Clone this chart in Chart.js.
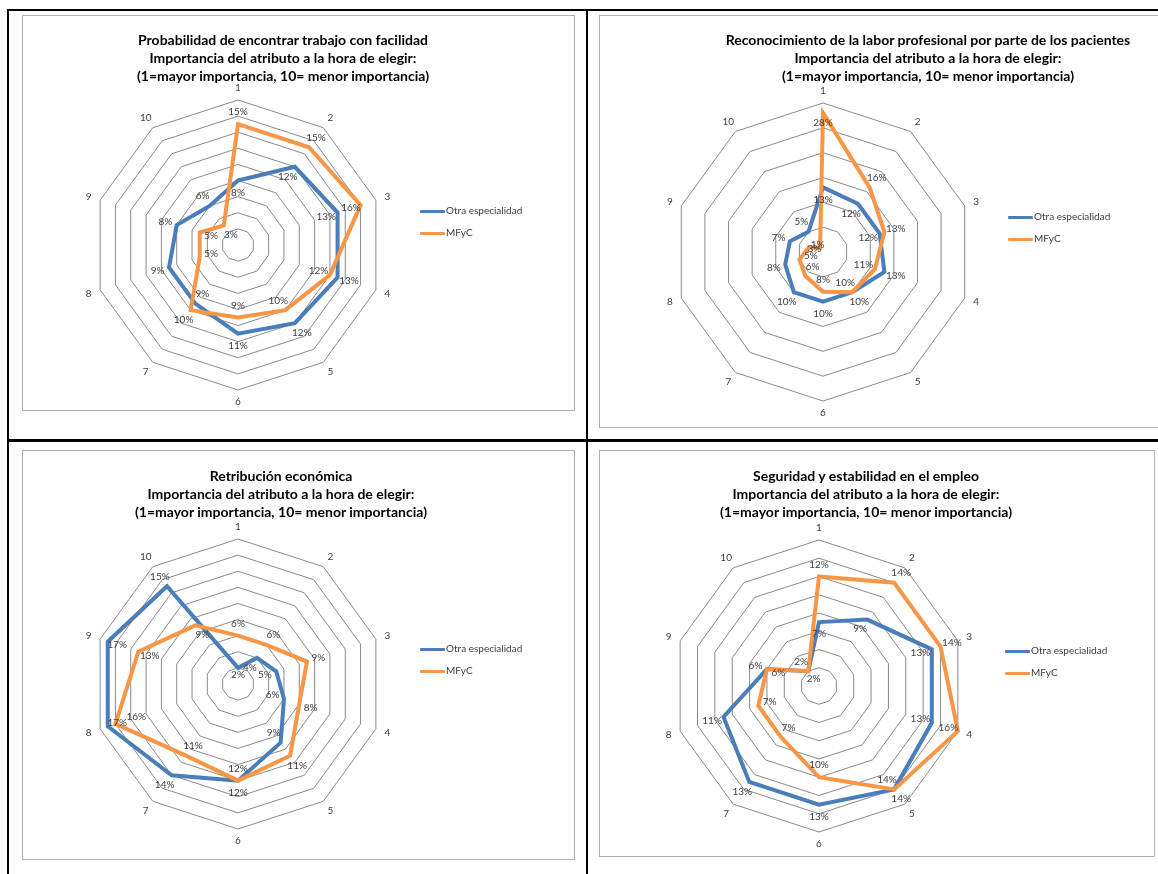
<!DOCTYPE html>
<html>
<head>
<meta charset="utf-8">
<script src="https://cdn.jsdelivr.net/npm/chart.js@4.4.1/dist/chart.umd.min.js"></script>
<style>
html,body{margin:0;padding:0;background:#fff;}
#page{position:relative;width:1158px;height:874px;overflow:hidden;font-family:Lato,"Open Sans",sans-serif;}
.rule{position:absolute;background:#000;}
.box{position:absolute;border:1px solid #b0b0b0;box-sizing:border-box;}
canvas{position:absolute;}
.title{position:absolute;width:600px;text-align:center;font-weight:bold;font-size:14px;line-height:18px;color:#000;white-space:nowrap;}
.legend{position:absolute;font-size:10px;color:#404040;white-space:nowrap;}
.legend .item{position:absolute;left:0;height:12px;line-height:12px;}
.legend .sw{display:inline-block;width:25px;height:3px;vertical-align:middle;margin-right:1px;border-radius:1px;}
</style>
</head>
<body>
<div id="page">
  <div class="rule" style="left:7px;top:9px;width:1151px;height:2px;"></div>
  <div class="rule" style="left:7px;top:9px;width:2px;height:865px;"></div>
  <div class="rule" style="left:586px;top:9px;width:2px;height:865px;"></div>
  <div class="rule" style="left:7px;top:439px;width:1151px;height:3px;"></div>
</div>
<script>
// ---------- DATA ----------
const categories = ['1','2','3','4','5','6','7','8','9','10'];
const seriesNames = ['Otra especialidad','MFyC'];

const trabajoOtra   = [8,12,13,13,12,11,9,9,8,6];
const trabajoMFyC   = [15,15,16,12,10,9,10,5,5,3];

const reconocOtra   = [13,12,12,13,10,10,10,8,7,5];
const reconocMFyC   = [28,16,13,11,10,8,6,5,3,1];

const retribOtra    = [2,4,5,6,9,12,14,17,17,15];
const retribMFyC    = [6,6,9,8,11,12,11,16,13,9];

const seguridadOtra = [7,9,13,13,14,13,13,11,6,2];
const seguridadMFyC = [12,14,14,16,14,10,7,7,6,2];

const titleCommon = ['Importancia del atributo a la hora de elegir:','(1=mayor importancia, 10= menor importancia)'];
const titleTrabajo   = 'Probabilidad de encontrar trabajo con facilidad';
const titleReconoc   = 'Reconocimiento de la labor profesional por parte de los pacientes';
const titleRetrib    = 'Retribución económica';
const titleSeguridad = 'Seguridad y estabilidad en el empleo';

const colors = ['#4A7EBB','#F79646'];

// ---------- PLUGIN: axis labels + data labels ----------
const radarText = {
  id: 'radarText',
  afterDatasetsDraw(chart) {
    const scale = chart.scales.r;
    const R = scale.drawingArea;
    const ctx = chart.ctx;
    ctx.save();
    ctx.font = '10px Lato, "Open Sans", sans-serif';
    ctx.fillStyle = '#404040';
    ctx.textAlign = 'center';
    ctx.textBaseline = 'middle';
    chart.data.labels.forEach((lab, i) => {
      const p = scale.getPointPosition(i, R + 12);
      ctx.fillText(lab, p.x, p.y);
    });
    const ds = chart.data.datasets;
    for (let i = 0; i < chart.data.labels.length; i++) {
      const outer = ds[1].data[i] > ds[0].data[i] ? 1 : 0;
      const inner = 1 - outer;
      const ro = scale.getDistanceFromCenterForValue(ds[outer].data[i]);
      const ri = scale.getDistanceFromCenterForValue(ds[inner].data[i]);
      const lo = (ro + 12 > R - 6) ? ro - 10 : ro + 12;
      const li = Math.max(Math.min(ri - 12, lo - 20), 9);
      [[outer, lo], [inner, li]].forEach(([k, lr]) => {
        const p = scale.getPointPosition(i, lr);
        ctx.fillText(ds[k].data[i] + '%', p.x, p.y);
      });
    }
    ctx.restore();
  }
};

const page = document.getElementById('page');

function addChart(cfg) {
  const box = document.createElement('div');
  box.className = 'box';
  Object.assign(box.style, {left: cfg.bx + 'px', top: cfg.by + 'px', width: cfg.bw + 'px', height: cfg.bh + 'px'});
  page.appendChild(box);

  const cv = document.createElement('canvas');
  cv.width = cfg.bw; cv.height = cfg.bh;
  cv.style.left = cfg.bx + 'px'; cv.style.top = cfg.by + 'px';
  cv.style.width = cfg.bw + 'px'; cv.style.height = cfg.bh + 'px';
  page.appendChild(cv);

  const t = document.createElement('div');
  t.className = 'title';
  t.style.left = (cfg.tx - 300) + 'px';
  t.style.top = (cfg.ty - 9) + 'px';
  [cfg.title].concat(titleCommon).forEach(line => {
    const d = document.createElement('div'); d.textContent = line; t.appendChild(d);
  });
  page.appendChild(t);

  const lg = document.createElement('div');
  lg.className = 'legend';
  lg.style.left = cfg.lx + 'px'; lg.style.top = (cfg.ly - 6) + 'px';
  seriesNames.forEach((n, k) => {
    const it = document.createElement('div');
    it.className = 'item';
    it.style.top = (k * 22) + 'px';
    const sw = document.createElement('span');
    sw.className = 'sw'; sw.style.background = colors[k];
    it.appendChild(sw);
    it.appendChild(document.createTextNode(n));
    lg.appendChild(it);
  });
  page.appendChild(lg);

  const cx = cfg.cx - cfg.bx, cy = cfg.cy - cfg.by, R = cfg.R;
  new Chart(cv, {
    type: 'radar',
    data: {
      labels: categories,
      datasets: [
        {label: seriesNames[0], data: cfg.otra, borderColor: colors[0], backgroundColor: colors[0], fill: false, order: 1},
        {label: seriesNames[1], data: cfg.mfyc, borderColor: colors[1], backgroundColor: colors[1], fill: false, order: 0}
      ]
    },
    options: {
      responsive: false,
      animation: false,
      devicePixelRatio: 1,
      layout: {padding: {left: cx - R, top: cy - R, right: cfg.bw - cx - R, bottom: cfg.bh - cy - R}},
      plugins: {legend: {display: false}, title: {display: false}, tooltip: {enabled: false}},
      elements: {line: {borderWidth: 4, tension: 0, borderJoinStyle: 'miter'}, point: {radius: 0, hoverRadius: 0}},
      scales: {
        r: {
          min: 0, max: cfg.max,
          ticks: {stepSize: cfg.step, display: false},
          grid: {color: '#8a8a8a', lineWidth: 1},
          angleLines: {display: false},
          pointLabels: {display: false}
        }
      }
    },
    plugins: [radarText]
  });
}

addChart({bx: 22, by: 15, bw: 553, bh: 396, cx: 238, cy: 245, R: 145, max: 18, step: 2,
  title: titleTrabajo, tx: 283, ty: 40, lx: 420, ly: 210, otra: trabajoOtra, mfyc: trabajoMFyC});
addChart({bx: 599, by: 15, bw: 565, bh: 413, cx: 823, cy: 252, R: 149, max: 30, step: 5,
  title: titleReconoc, tx: 928, ty: 40, lx: 1008, ly: 216, otra: reconocOtra, mfyc: reconocMFyC});
addChart({bx: 22, by: 450, bw: 553, bh: 410, cx: 238, cy: 684, R: 145, max: 18, step: 2,
  title: titleRetrib, tx: 281, ty: 476, lx: 420, ly: 648, otra: retribOtra, mfyc: retribMFyC});
addChart({bx: 599, by: 450, bw: 556, bh: 407, cx: 819, cy: 686, R: 146, max: 16, step: 2,
  title: titleSeguridad, tx: 866, ty: 476, lx: 1005, ly: 650, otra: seguridadOtra, mfyc: seguridadMFyC});
</script>
</body>
</html>
